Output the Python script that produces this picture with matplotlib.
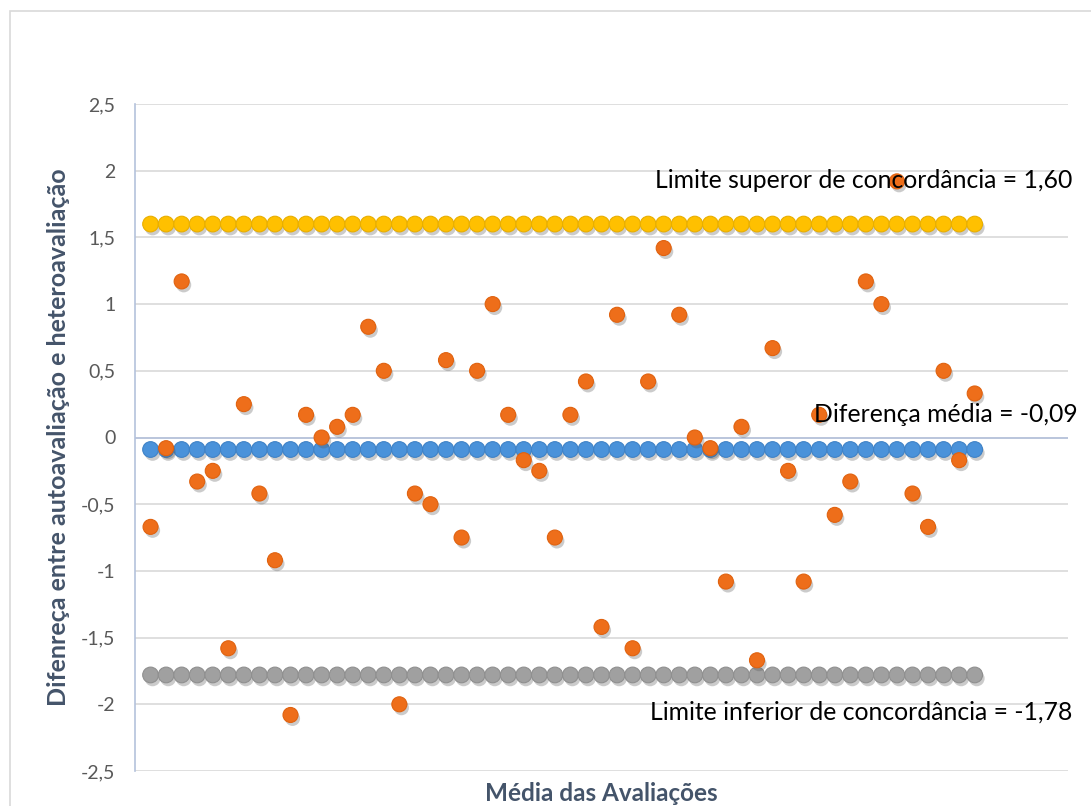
import numpy as np
import matplotlib
matplotlib.use("Agg")
import matplotlib.pyplot as plt
import matplotlib.patheffects as pe
from matplotlib.patches import Rectangle
from matplotlib.ticker import FuncFormatter

plt.rcParams['font.family'] = ['Lato', 'DejaVu Sans']

# diferença (autoavaliação - heteroavaliação) para cada avaliação
diferencas = [-0.67, -0.08, 1.17, -0.33, -0.25, -1.58, 0.25, -0.42, -0.92, -2.08,
              0.17, 0.00, 0.08, 0.17, 0.83, 0.50, -2.00, -0.42, -0.50, 0.58,
              -0.75, 0.50, 1.00, 0.17, -0.17, -0.25, -0.75, 0.17, 0.42, -1.42,
              0.92, -1.58, 0.42, 1.42, 0.92, 0.00, -0.08, -1.08, 0.08, -1.67,
              0.67, -0.25, -1.08, 0.17, -0.58, -0.33, 1.17, 1.00, 1.92, -0.42,
              -0.67, 0.50, -0.17, 0.33]
media = -0.09
lim_sup = 1.60
lim_inf = -1.78
y_ticks = [-2.5, -2, -1.5, -1, -0.5, 0, 0.5, 1, 1.5, 2, 2.5]

x = np.arange(1, len(diferencas) + 1)

fig = plt.figure(figsize=(10.91, 8.06), dpi=100)
fig.patches.append(Rectangle((10 / 1091, -0.1), 2, 0.1 + 1 - 11 / 806,
                             transform=fig.transFigure, fill=False,
                             edgecolor='#D9D9D9', linewidth=1.2))
ax = fig.add_axes([135 / 1091, 1 - 771 / 806, (1068 - 135) / 1091, (771 - 104) / 806])

sombra = [pe.SimplePatchShadow(offset=(1.5, -2.5), shadow_rgbFace='#555555', alpha=0.3),
          pe.Normal()]

def serie(y, cor, borda, ms, z):
    ax.plot(x, y, linestyle='none', marker='o', markersize=ms,
            markerfacecolor=cor, markeredgecolor=borda, markeredgewidth=0.8,
            path_effects=sombra, zorder=z, clip_on=False)

serie([lim_sup] * len(x), '#FFC000', '#E8AE00', 11.3, 3)
serie([media] * len(x), '#4A92DA', '#3F82C6', 11.3, 3)
serie([lim_inf] * len(x), '#A0A0A0', '#8F8F8F', 11.3, 3)
serie(diferencas, '#EE6E1A', '#E0620F', 10.8, 4)

ax.set_xlim(0, 60)
ax.set_ylim(-2.5, 2.5)
ax.set_yticks(y_ticks)
ax.yaxis.set_major_formatter(FuncFormatter(lambda v, p: f"{v:g}".replace('.', ',')))
ax.set_xticks([])
ax.tick_params(axis='y', length=0, labelsize=14, labelcolor='#595959', pad=14)
ax.grid(axis='y', color='#D9D9D9', linewidth=1.2)
ax.set_axisbelow(True)
for s in ['top', 'right', 'bottom']:
    ax.spines[s].set_visible(False)
ax.spines['left'].set_color('#B4C2DC')
ax.spines['left'].set_linewidth(1.2)
ax.axhline(0, color='#B4C2DC', linewidth=1.2, zorder=1)

ax.set_ylabel('Difenreça entre autoavaliação e heteroavaliação', fontsize=18,
              fontweight='bold', color='#44546A', labelpad=8)
ax.set_xlabel('Média das Avaliações', fontsize=17.5, fontweight='bold',
              color='#44546A', labelpad=8)

rotulo = dict(fontsize=17.8, color='black', ha='right', va='center', zorder=6, clip_on=False)
ax.text(60.3, 1.93, 'Limite superor de concordância = 1,60', **rotulo)
ax.text(60.6, 0.17, 'Diferença média = -0,09', **rotulo)
ax.text(60.3, -2.06, 'Limite inferior de concordância = -1,78', **rotulo)

fig.savefig('out.png', dpi=100)
